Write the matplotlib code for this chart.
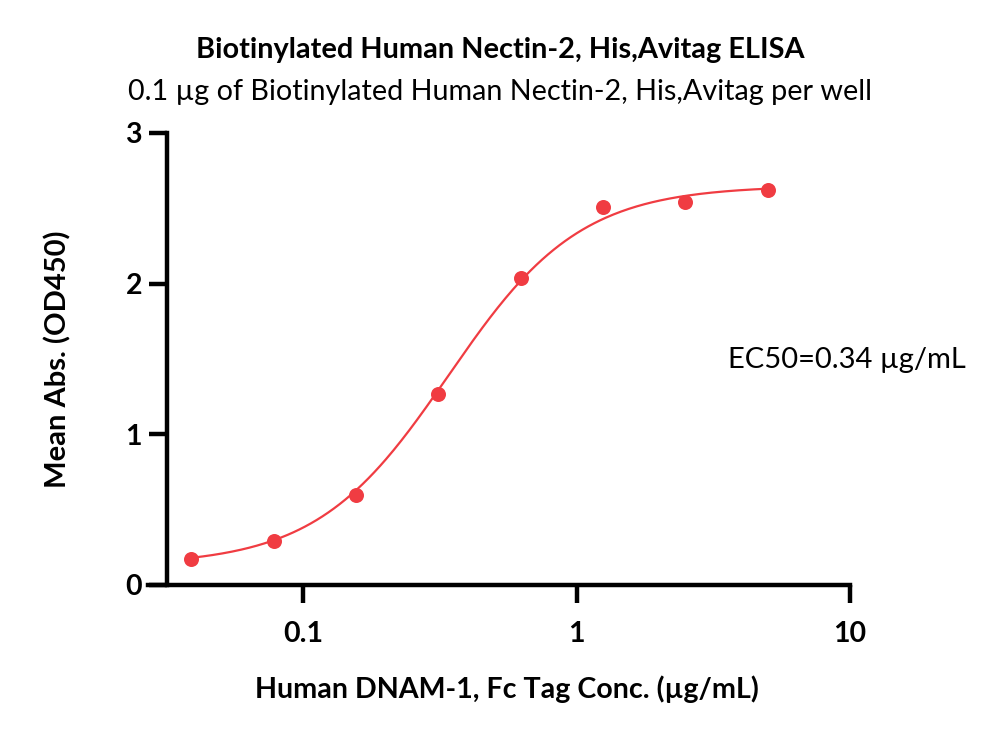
import numpy as np
import matplotlib
matplotlib.use("Agg")
import matplotlib.pyplot as plt
from matplotlib.ticker import FixedLocator, NullLocator


# ============================================================
# DATA
# ============================================================

conc = [0.039, 0.078, 0.156, 0.3125, 0.625, 1.25, 2.5, 5.0]
mean_abs = [0.17, 0.29, 0.60, 1.27, 2.04, 2.51, 2.54, 2.62]

# 4PL fit parameters
fit_bottom = 0.13
fit_top = 2.65
fit_ec50 = 0.34
fit_hill = 1.8

x_ticks = [0.1, 1, 10]
x_tick_labels = ["0.1", "1", "10"]
y_ticks = [0, 1, 2, 3]

title = "Biotinylated Human Nectin-2, His,Avitag ELISA"
subtitle = "0.1 \u00b5g of Biotinylated Human Nectin-2, His,Avitag per well"
x_label = "Human DNAM-1, Fc Tag Conc. (\u00b5g/mL)"
y_label = "Mean Abs. (OD450)"
ec50_text = "EC50=0.34 \u00b5g/mL"

RED = "#F03C42"
FONT = ["Lato", "DejaVu Sans"]

plt.rcParams["font.family"] = FONT


# ============================================================
# PLOT
# ============================================================

def main():
    fig = plt.figure(figsize=(10, 7.4), dpi=100)
    # axes spans from the x-axis left end (148 px) to 850 px
    ax = fig.add_axes([0.148, 0.2095, 0.702, 0.6108])
    ax.set_xscale("log")
    ax.set_xlim(0.0271, 10)
    ax.set_ylim(0, 3)

    xs = np.logspace(np.log10(conc[0]), np.log10(conc[-1]), 300)
    ys = fit_bottom + (fit_top - fit_bottom) / (1 + (fit_ec50 / xs) ** fit_hill)
    ax.plot(xs, ys, color=RED, lw=1.6, clip_on=False)
    ax.plot(conc, mean_abs, "o", color=RED, ms=10.8, mec="none", clip_on=False)

    for side in ["top", "right"]:
        ax.spines[side].set_visible(False)
    ax.spines["left"].set_position(("data", 0.0318))
    for side in ["left", "bottom"]:
        ax.spines[side].set_linewidth(3.2)
        ax.spines[side].set_capstyle("projecting")

    ax.xaxis.set_major_locator(FixedLocator(x_ticks))
    ax.xaxis.set_minor_locator(NullLocator())
    ax.set_xticklabels(x_tick_labels)
    ax.yaxis.set_major_locator(FixedLocator(y_ticks))
    ax.tick_params(axis="both", which="major", direction="out", length=13, width=3.2,
                   labelsize=20.5, pad=5)
    for lab in ax.get_xticklabels() + ax.get_yticklabels():
        lab.set_fontweight("bold")
    ax.tick_params(axis="x", pad=13)

    fig.text(0.5, 0.932, title, ha="center", va="center", fontsize=20.8, fontweight="bold")
    fig.text(0.5, 0.876, subtitle, ha="center", va="center", fontsize=20.7)
    fig.text(0.507, 0.068, x_label, ha="center", va="center", fontsize=20.6, fontweight="bold")
    fig.text(0.058, 0.514, y_label, ha="center", va="center", fontsize=21,
             fontweight="bold", rotation=90)
    fig.text(0.847, 0.514, ec50_text, ha="center", va="center", fontsize=21)

    fig.savefig("out.png", dpi=100)
    plt.close(fig)


if __name__ == "__main__":
    main()
